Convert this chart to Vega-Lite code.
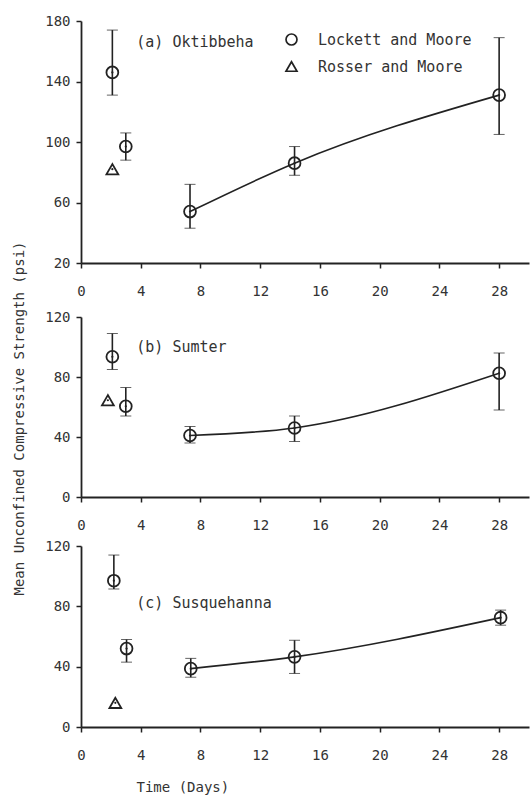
{
  "$schema": "https://vega.github.io/schema/vega-lite/v6.json",
  "padding": {"left": 11, "top": 14, "right": 2, "bottom": 2},
  "background": "white",
  "datasets": {
    "pts": [
      {"panel": "a", "source": "Lockett and Moore", "day": 2.1, "mean": 146, "lo": 131, "hi": 174},
      {"panel": "a", "source": "Lockett and Moore", "day": 3, "mean": 97, "lo": 88, "hi": 106},
      {"panel": "a", "source": "Rosser and Moore", "day": 2.1, "mean": 82},
      {"panel": "a", "source": "Lockett and Moore", "day": 7.3, "mean": 54, "lo": 43, "hi": 72},
      {"panel": "a", "source": "Lockett and Moore", "day": 14.3, "mean": 86, "lo": 78, "hi": 97},
      {"panel": "a", "source": "Lockett and Moore", "day": 28, "mean": 131, "lo": 105, "hi": 169},
      {"panel": "b", "source": "Lockett and Moore", "day": 2.1, "mean": 93.5, "lo": 85, "hi": 109},
      {"panel": "b", "source": "Rosser and Moore", "day": 1.8, "mean": 64.5},
      {"panel": "b", "source": "Lockett and Moore", "day": 3, "mean": 60.5, "lo": 54, "hi": 73},
      {"panel": "b", "source": "Lockett and Moore", "day": 7.3, "mean": 41, "lo": 36, "hi": 47},
      {"panel": "b", "source": "Lockett and Moore", "day": 14.3, "mean": 46, "lo": 37, "hi": 54},
      {"panel": "b", "source": "Lockett and Moore", "day": 28, "mean": 82.5, "lo": 58, "hi": 96},
      {"panel": "c", "source": "Lockett and Moore", "day": 2.2, "mean": 97, "lo": 91.5, "hi": 114},
      {"panel": "c", "source": "Lockett and Moore", "day": 3.05, "mean": 52, "lo": 43, "hi": 58},
      {"panel": "c", "source": "Rosser and Moore", "day": 2.3, "mean": 16},
      {"panel": "c", "source": "Lockett and Moore", "day": 7.35, "mean": 38.7, "lo": 33, "hi": 45.5},
      {"panel": "c", "source": "Lockett and Moore", "day": 14.3, "mean": 46.5, "lo": 35.5, "hi": 57.5},
      {"panel": "c", "source": "Lockett and Moore", "day": 28.1, "mean": 72.5, "lo": 67.5, "hi": 77.5}
    ],
    "lab": [
      {"panel": "a", "day": 3.7, "val": 166, "text": "(a) Oktibbeha"},
      {"panel": "b", "day": 3.7, "val": 100, "text": "(b) Sumter"},
      {"panel": "c", "day": 3.7, "val": 82.5, "text": "(c) Susquehanna"}
    ]
  },
  "config": {
    "view": {"stroke": null},
    "axis": {
      "domainColor": "#222", "domainWidth": 1.8, "tickColor": "#222", "tickWidth": 1.5, "tickSize": 5,
      "labelFont": "DejaVu Sans Mono", "labelFontSize": 14, "labelColor": "#333", "grid": false,
      "titleFont": "DejaVu Sans Mono", "titleFontSize": 14, "titleFontWeight": "normal", "titleColor": "#333",
      "labelFlush": false
    },
    "axisX": {"labelPadding": 16},
    "axisY": {"labelPadding": 6}
  },
  "bounds": "flush",
  "spacing": 54,
  "vconcat": [
    {
      "width": 448, "height": 242,
      "layer": [
        {"data": {"name": "pts"}, "transform": [{"filter": "datum.panel==='a' && datum.source==='Lockett and Moore' && datum.day>=7"}],
         "mark": {"type": "line", "interpolate": "monotone", "color": "#222", "strokeWidth": 1.6},
         "encoding": {
           "x": {"field": "day", "type": "quantitative", "scale": {"domain": [0, 30], "nice": false}, "axis": {"values": [0, 4, 8, 12, 16, 20, 24, 28], "title": null}},
           "y": {"field": "mean", "type": "quantitative", "scale": {"domain": [20, 180], "nice": false, "zero": false}, "axis": {"values": [20, 60, 100, 140, 180], "title": null}}
         }},
        {"data": {"name": "pts"}, "transform": [{"filter": "datum.panel==='a' && isValid(datum.lo)"}],
         "mark": {"type": "errorbar", "ticks": {"size": 11, "color": "#222", "strokeWidth": 1.6}, "rule": {"color": "#222", "strokeWidth": 1.6}},
         "encoding": {"x": {"field": "day", "type": "quantitative"}, "y": {"field": "lo", "type": "quantitative", "title": null}, "y2": {"field": "hi"}}},
        {"data": {"name": "pts"}, "transform": [{"filter": "datum.panel==='a'"}],
         "mark": {"type": "point", "filled": false, "size": 140, "strokeWidth": 1.8, "color": "#222", "opacity": 1},
         "encoding": {
           "x": {"field": "day", "type": "quantitative"}, "y": {"field": "mean", "type": "quantitative"},
           "shape": {"field": "source", "type": "nominal", "scale": {"domain": ["Lockett and Moore", "Rosser and Moore"], "range": ["circle", "triangle-up"]},
             "legend": {"title": null, "orient": "none", "legendX": 203, "legendY": 11, "symbolStrokeColor": "#222", "symbolFillColor": "transparent", "symbolStrokeWidth": 1.7, "symbolSize": 120, "labelFont": "DejaVu Sans Mono", "labelFontSize": 15, "labelColor": "#333", "rowPadding": 9, "labelOffset": 19, "padding": 0}}
         }},
        {"data": {"name": "pts"}, "transform": [{"filter": "datum.panel==='a'"}],
         "mark": {"type": "point", "filled": true, "shape": "circle", "size": 5, "color": "#222", "opacity": 1},
         "encoding": {"x": {"field": "day", "type": "quantitative"}, "y": {"field": "mean", "type": "quantitative"}}},
        {"data": {"name": "lab"}, "transform": [{"filter": "datum.panel==='a'"}],
         "mark": {"type": "text", "align": "left", "baseline": "middle", "font": "DejaVu Sans Mono", "fontSize": 15, "color": "#333"},
         "encoding": {"x": {"field": "day", "type": "quantitative"}, "y": {"field": "val", "type": "quantitative"}, "text": {"field": "text"}}}
      ]
    },
    {
      "bounds": "flush",
      "spacing": 49,
      "vconcat": [
        {
          "width": 448, "height": 180,
          "layer": [
            {"data": {"name": "pts"}, "transform": [{"filter": "datum.panel==='b' && datum.source==='Lockett and Moore' && datum.day>=7"}],
             "mark": {"type": "line", "interpolate": "monotone", "color": "#222", "strokeWidth": 1.6},
             "encoding": {
               "x": {"field": "day", "type": "quantitative", "scale": {"domain": [0, 30], "nice": false}, "axis": {"values": [0, 4, 8, 12, 16, 20, 24, 28], "title": null}},
               "y": {"field": "mean", "type": "quantitative", "title": "Mean Unconfined Compressive Strength (psi)", "scale": {"domain": [0, 120], "nice": false}, "axis": {"values": [0, 40, 80, 120], "titleX": -62, "titleY": 101, "titleAngle": -90, "titleAlign": "center", "titleBaseline": "middle"}}
             }},
            {"data": {"name": "pts"}, "transform": [{"filter": "datum.panel==='b' && isValid(datum.lo)"}],
             "mark": {"type": "errorbar", "ticks": {"size": 11, "color": "#222", "strokeWidth": 1.6}, "rule": {"color": "#222", "strokeWidth": 1.6}},
             "encoding": {"x": {"field": "day", "type": "quantitative"}, "y": {"field": "lo", "type": "quantitative", "title": "Mean Unconfined Compressive Strength (psi)"}, "y2": {"field": "hi"}}},
            {"data": {"name": "pts"}, "transform": [{"filter": "datum.panel==='b'"}],
             "mark": {"type": "point", "filled": false, "size": 140, "strokeWidth": 1.8, "color": "#222", "opacity": 1},
             "encoding": {
               "x": {"field": "day", "type": "quantitative"}, "y": {"field": "mean", "type": "quantitative", "title": "Mean Unconfined Compressive Strength (psi)"},
               "shape": {"field": "source", "type": "nominal", "scale": {"domain": ["Lockett and Moore", "Rosser and Moore"], "range": ["circle", "triangle-up"]}}
             }},
            {"data": {"name": "pts"}, "transform": [{"filter": "datum.panel==='b'"}],
             "mark": {"type": "point", "filled": true, "shape": "circle", "size": 5, "color": "#222", "opacity": 1},
             "encoding": {"x": {"field": "day", "type": "quantitative"}, "y": {"field": "mean", "type": "quantitative", "title": "Mean Unconfined Compressive Strength (psi)"}}},
            {"data": {"name": "lab"}, "transform": [{"filter": "datum.panel==='b'"}],
             "mark": {"type": "text", "align": "left", "baseline": "middle", "font": "DejaVu Sans Mono", "fontSize": 15, "color": "#333"},
             "encoding": {"x": {"field": "day", "type": "quantitative"}, "y": {"field": "val", "type": "quantitative", "title": "Mean Unconfined Compressive Strength (psi)"}, "text": {"field": "text"}}}
          ]
        },
        {
          "width": 448, "height": 181,
          "layer": [
            {"data": {"name": "pts"}, "transform": [{"filter": "datum.panel==='c' && datum.source==='Lockett and Moore' && datum.day>=7"}],
             "mark": {"type": "line", "interpolate": "monotone", "color": "#222", "strokeWidth": 1.6},
             "encoding": {
               "x": {"field": "day", "type": "quantitative", "scale": {"domain": [0, 30], "nice": false}, "axis": {"values": [0, 4, 8, 12, 16, 20, 24, 28], "title": "Time (Days)", "titleX": 55, "titleY": 60, "titleAlign": "left", "titleAnchor": "start", "titleBaseline": "middle"}},
               "y": {"field": "mean", "type": "quantitative", "scale": {"domain": [0, 120], "nice": false}, "axis": {"values": [0, 40, 80, 120], "title": null}}
             }},
            {"data": {"name": "pts"}, "transform": [{"filter": "datum.panel==='c' && isValid(datum.lo)"}],
             "mark": {"type": "errorbar", "ticks": {"size": 11, "color": "#222", "strokeWidth": 1.6}, "rule": {"color": "#222", "strokeWidth": 1.6}},
             "encoding": {"x": {"field": "day", "type": "quantitative"}, "y": {"field": "lo", "type": "quantitative", "title": null}, "y2": {"field": "hi"}}},
            {"data": {"name": "pts"}, "transform": [{"filter": "datum.panel==='c'"}],
             "mark": {"type": "point", "filled": false, "size": 140, "strokeWidth": 1.8, "color": "#222", "opacity": 1},
             "encoding": {
               "x": {"field": "day", "type": "quantitative"}, "y": {"field": "mean", "type": "quantitative"},
               "shape": {"field": "source", "type": "nominal", "scale": {"domain": ["Lockett and Moore", "Rosser and Moore"], "range": ["circle", "triangle-up"]}}
             }},
            {"data": {"name": "pts"}, "transform": [{"filter": "datum.panel==='c'"}],
             "mark": {"type": "point", "filled": true, "shape": "circle", "size": 5, "color": "#222", "opacity": 1},
             "encoding": {"x": {"field": "day", "type": "quantitative"}, "y": {"field": "mean", "type": "quantitative"}}},
            {"data": {"name": "lab"}, "transform": [{"filter": "datum.panel==='c'"}],
             "mark": {"type": "text", "align": "left", "baseline": "middle", "font": "DejaVu Sans Mono", "fontSize": 15, "color": "#333"},
             "encoding": {"x": {"field": "day", "type": "quantitative"}, "y": {"field": "val", "type": "quantitative"}, "text": {"field": "text"}}}
          ]
        }
      ]
    }
  ]
}
